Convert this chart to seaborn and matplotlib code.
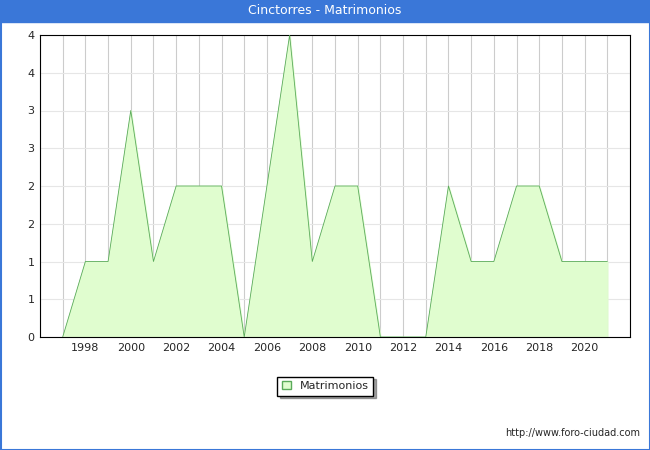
import matplotlib
matplotlib.use("Agg")
import matplotlib.pyplot as plt
import seaborn as sns
import pandas as pd
from matplotlib.patches import Rectangle
from matplotlib.ticker import MultipleLocator, FuncFormatter
import math

years = list(range(1997, 2022))
values = [0, 1, 1, 3, 1, 2, 2, 2, 0, 2, 4, 1, 2, 2, 0, 0, 0, 2, 1, 1, 2, 2, 1, 1, 1]
df = pd.DataFrame({"year": years, "Matrimonios": values})

sns.set_style("white")
plt.rcParams['font.family'] = ['DejaVu Sans']
fig = plt.figure(figsize=(6.5, 4.5), dpi=100)
ax = fig.add_axes([40/650, 1-337/450, 590/650, 302/450])

ax.fill_between(df["year"], df["Matrimonios"], color="#e0fdcf", zorder=2)
sns.lineplot(data=df, x="year", y="Matrimonios", ax=ax, color="#5aaa5a", linewidth=0.6, zorder=3)

ax.set_xlim(1996, 2022)
ax.set_ylim(0, 4)
ax.xaxis.set_major_locator(MultipleLocator(2))
ax.xaxis.set_minor_locator(MultipleLocator(1))
ax.set_xticks(range(1998, 2021, 2))
ax.yaxis.set_major_locator(MultipleLocator(0.5))
ax.yaxis.set_major_formatter(FuncFormatter(lambda v, p: str(int(math.floor(v + 0.5)))))
ax.grid(True, which="both", axis="x", color="#cccccc", linewidth=0.8, zorder=1)
ax.grid(True, which="major", axis="y", color="#e6e6e6", linewidth=0.8, zorder=1)
ax.set_axisbelow(True)
ax.set_xlabel("")
ax.set_ylabel("")
ax.tick_params(labelsize=8, length=0, pad=4)
for s in ax.spines.values():
    s.set_color("black")
    s.set_linewidth(0.8)

# title bar
fig.patches.append(Rectangle((0, 1-22/450), 1, 22/450, transform=fig.transFigure, color="#3a77d8", zorder=0))
fig.patches.append(Rectangle((0.5/650, 0.5/450), 649/650, 449/450, transform=fig.transFigure, fill=False, edgecolor="#3a77d8", linewidth=1.5))
fig.text(0.5, 1-11/450, "Cinctorres - Matrimonios", color="white", ha="center", va="center", fontsize=9)

leg = fig.legend(handles=[Rectangle((0, 0), 1, 1, facecolor="#e0fdcf", edgecolor="#5aaa5a")],
                 labels=["Matrimonios"], loc="center", bbox_to_anchor=(325/650, 1-386/450),
                 fontsize=8, frameon=True, fancybox=False, shadow=True, handlelength=0.8, handleheight=0.8)
leg.get_frame().set_edgecolor("black")
fig.text(640/650, 1-433/450, "http://www.foro-ciudad.com", ha="right", va="center", fontsize=7)

fig.savefig("out.png", dpi=100)
